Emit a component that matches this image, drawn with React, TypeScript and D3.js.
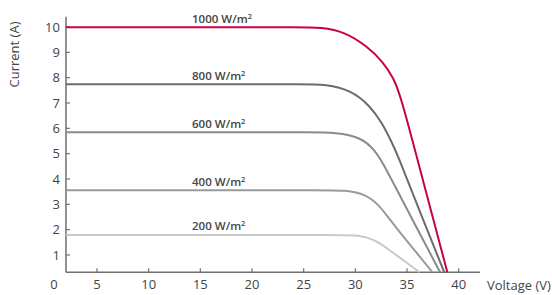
import React from "react";
import { scaleLinear, line, curveBasis } from "d3";

// I-V curves per irradiance: [voltage, current]
const irradiances = ["1000", "800", "600", "400", "200"];
const curve1000 = [[2, 9.99], [10, 9.99], [20, 9.99], [24, 9.99], [26.8, 9.99], [29, 9.8], [31.1, 9.25], [32.7, 8.62], [33.7, 7.97], [34.35, 7.35], [36.6, 3.85], [38.9, 0.32]];
const curve800 = [[2, 7.74], [10, 7.74], [20, 7.74], [24.5, 7.74], [27.2, 7.74], [29.6, 7.5], [31.4, 6.9], [32.6, 6.2], [33.4, 5.55], [34.1, 4.95], [36.3, 2.65], [38.6, 0.32]];
const curve600 = [[2, 5.84], [10, 5.84], [20, 5.84], [25.5, 5.84], [28.2, 5.84], [30.5, 5.65], [31.9, 5.15], [32.9, 4.45], [33.6, 3.9], [35.9, 2.1], [38.2, 0.32]];
const curve400 = [[2, 3.56], [10, 3.56], [20, 3.56], [26.5, 3.56], [29.1, 3.56], [31, 3.4], [32.3, 2.97], [33.3, 2.42], [34.2, 1.95], [35.8, 1.15], [37.45, 0.32]];
const curve200 = [[2, 1.79], [10, 1.79], [20, 1.79], [28, 1.79], [30.4, 1.79], [32, 1.58], [33.2, 1.22], [34.7, 0.78], [36.2, 0.32]];
const curves = [curve1000, curve800, curve600, curve400, curve200];
const colors = ["#c8004e", "#6c6c6e", "#8b8b8b", "#9a9a9a", "#c9c9c9"];

const xTicks = [5, 10, 15, 20, 25, 30, 35, 40];
const yTicks = [1, 2, 3, 4, 5, 6, 7, 8, 9, 10];
const labelV = 14.2;

const font = "'Open Sans', 'Noto Sans', sans-serif";

export default function App() {
  const width = 552;
  const height = 295;
  const x = scaleLinear().domain([0, 40]).range([45.3, 458.7]);
  const y = scaleLinear().domain([0, 10]).range([280.3, 27]);
  const axisX = x(2); // y axis sits at 2 V
  const axisY = y(0.32); // x axis sits a bit above 0 A
  const axisRight = x(42.05);
  const axisTop = y(10.4);

  const path = line<number[]>()
    .x((d) => x(d[0]))
    .y((d) => y(d[1]))
    .curve(curveBasis);

  return (
    <svg
      width={width}
      height={height}
      style={{ position: "absolute", left: 0, top: 0, background: "#fff" }}
      fontFamily={font}
    >
      {/* axes */}
      <line x1={axisX} x2={axisX} y1={axisTop} y2={axisY} stroke="#6f6f6f" strokeWidth={1.5} />
      <line x1={axisX} x2={axisRight} y1={axisY} y2={axisY} stroke="#6f6f6f" strokeWidth={1.5} />
      {yTicks.map((t) => (
        <g key={"y" + t}>
          <line x1={axisX} x2={axisX + 4} y1={y(t)} y2={y(t)} stroke="#6f6f6f" strokeWidth={1.2} />
          <text x={axisX - 6} y={y(t)} dy="0.35em" textAnchor="end" fontSize={13} fill="#444">
            {t}
          </text>
        </g>
      ))}
      {xTicks.map((t) => (
        <g key={"x" + t}>
          <line x1={x(t)} x2={x(t)} y1={axisY} y2={axisY - 4} stroke="#6f6f6f" strokeWidth={1.2} />
          <text x={x(t)} y={axisY + 17} textAnchor="middle" fontSize={13} fill="#444">
            {t}
          </text>
        </g>
      ))}
      <text x={x(0.85)} y={axisY + 17} textAnchor="middle" fontSize={13} fill="#444">
        0
      </text>
      <text
        transform={`translate(19, ${54.5}) rotate(-90)`}
        textAnchor="middle"
        fontSize={13}
        fill="#444"
      >
        Current (A)
      </text>
      <text x={487} y={axisY + 18} fontSize={13} fill="#444">
        Voltage (V)
      </text>

      {/* curves */}
      {curves.map((c, i) => (
        <path key={irradiances[i]} d={path(c) || ""} fill="none" stroke={colors[i]} strokeWidth={2} />
      ))}
      {curves.map((c, i) => (
        <text
          key={"l" + irradiances[i]}
          x={x(labelV)}
          y={y(c[0][1]) - 4.5}
          fontSize={11.5}
          fontWeight={600}
          fill="#444"
        >
          {irradiances[i]} W/m
          <tspan fontSize={7.5} dy={-4}>
            2
          </tspan>
        </text>
      ))}
    </svg>
  );
}
